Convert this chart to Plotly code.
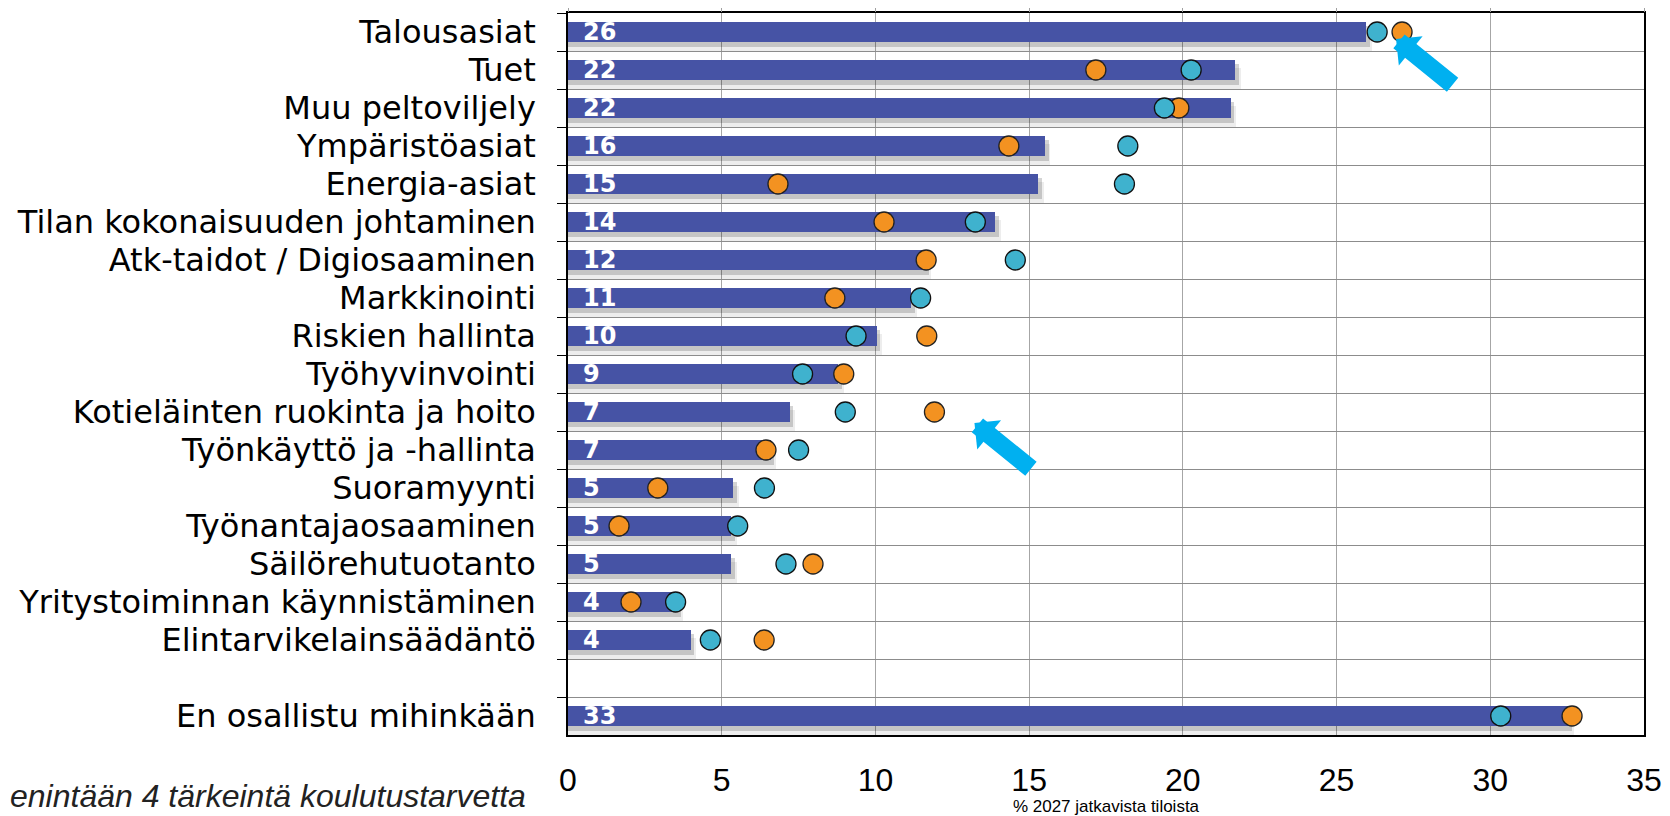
import plotly.graph_objects as go

categories = [
    "Talousasiat", "Tuet", "Muu peltoviljely", "Ympäristöasiat", "Energia-asiat",
    "Tilan kokonaisuuden johtaminen", "Atk-taidot / Digiosaaminen", "Markkinointi",
    "Riskien hallinta", "Työhyvinvointi", "Kotieläinten ruokinta ja hoito",
    "Työnkäyttö ja -hallinta", "Suoramyynti", "Työnantajaosaaminen",
    "Säilörehutuotanto", "Yritystoiminnan käynnistäminen", "Elintarvikelainsäädäntö",
    " ", "En osallistu mihinkään",
]
bar_values = [25.96, 21.71, 21.55, 15.51, 15.30, 13.89, 11.62, 11.16, 10.04, 8.79,
              7.21, 6.59, 5.37, 5.31, 5.31, 3.55, 3.99, None, 32.55]
teal_values = [26.32, 20.27, 19.40, 18.21, 18.10, 13.25, 14.55, 11.47, 9.37, 7.63,
               9.02, 7.50, 6.39, 5.52, 7.09, 3.50, 4.63, None, 30.34]
orange_values = [27.13, 17.17, 19.87, 14.34, 6.83, 10.28, 11.65, 8.68, 11.67, 8.97,
                 11.92, 6.44, 2.92, 1.66, 7.97, 2.05, 6.38, None, 32.66]
x_ticks = [0, 5, 10, 15, 20, 25, 30, 35]
x_title = "% 2027 jatkavista tiloista"
footnote = "enintään 4 tärkeintä koulutustarvetta"
arrow_targets = ["Talousasiat", "Kotieläinten ruokinta ja hoito"]

BAR_COLOR = "#4653A5"
TEAL = "#3FB2CE"
ORANGE = "#F39221"
ARROW = "#00B0F0"
BAR_W = 0.55

# the page body has an 8px default margin; the figure is sized to fill the rest
FIG_W, FIG_H = 1662, 808
M_L, M_R, M_T, M_B = 560, 26, 5, 81

fig = go.Figure()

# soft drop shadow under bars
for dy, dx, col in [(0.22, 0.18, "rgba(0,0,0,0.07)"), (0.12, 0.12, "rgba(0,0,0,0.17)")]:
    fig.add_trace(go.Bar(
        y=categories,
        x=[None if v is None else v + dx for v in bar_values],
        orientation="h", width=BAR_W, offset=-BAR_W / 2 + dy,
        marker=dict(color=col, line=dict(width=0)),
        hoverinfo="skip", showlegend=False,
    ))

fig.add_trace(go.Bar(
    y=categories, x=bar_values, orientation="h", width=BAR_W, offset=-BAR_W / 2,
    marker=dict(color=BAR_COLOR, line=dict(width=0)),
    texttemplate="\u2002%{x:.0f}", textposition="inside", insidetextanchor="start",
    constraintext="none", textangle=0,
    textfont=dict(family="DejaVu Sans", size=24, color="white", weight="bold"),
    showlegend=False, name="2027",
))

fig.add_trace(go.Scatter(
    y=categories, x=orange_values, mode="markers",
    marker=dict(size=20, color=ORANGE, line=dict(color="#222222", width=1.3)),
    showlegend=False, name="orange",
))
fig.add_trace(go.Scatter(
    y=categories, x=teal_values, mode="markers", xaxis="x2",
    marker=dict(size=20, color=TEAL, line=dict(color="#111111", width=1.3)),
    showlegend=False, name="teal",
))

plot_w = FIG_W - M_L - M_R
plot_h = FIG_H - M_T - M_B

annotations = []
shifts = [(-6, -7), (40, -11)]
for cat, (xs, ys) in zip(arrow_targets, shifts):
    idx = categories.index(cat)
    annotations.append(dict(
        x=orange_values[idx], y=cat, xref="x", yref="y", xshift=xs, yshift=ys,
        text="", showarrow=True, arrowhead=1, arrowsize=0.35, arrowwidth=18,
        arrowcolor=ARROW, ax=58, ay=47,
    ))
annotations.append(dict(
    text=footnote, xref="paper", yref="paper", x=-M_L / plot_w, y=-M_B / plot_h,
    xanchor="left", yanchor="bottom", showarrow=False,
    font=dict(family="Liberation Sans", size=32, color="#222222", style="italic"),
))

fig.update_layout(
    width=FIG_W, height=FIG_H,
    margin=dict(l=M_L, r=M_R, t=M_T, b=M_B, autoexpand=False),
    paper_bgcolor="white", plot_bgcolor="white",
    barmode="overlay", bargap=0,
    xaxis=dict(
        range=[0, 35], tickvals=x_ticks, showgrid=True, gridcolor="#a6a6a6", gridwidth=1,
        showline=True, linecolor="black", linewidth=1.5, mirror=True, ticks="",
        zeroline=False, automargin=False,
        tickfont=dict(family="Liberation Sans", size=32, color="black"),
        ticklabelstandoff=16,
        title=dict(text=x_title, font=dict(family="Liberation Sans", size=17, color="black"),
                   standoff=5),
    ),
    xaxis2=dict(
        matches="x", overlaying="x", side="top", range=[0, 35], tickvals=x_ticks,
        ticks="outside", ticklen=11, tickcolor="#a0a0a0", showticklabels=False,
        showgrid=False, showline=False, zeroline=False,
    ),
    yaxis=dict(
        type="category", categoryorder="array", categoryarray=categories,
        range=[len(categories) - 0.5, -0.5], autorange=False,
        tickmode="linear", tick0=0, dtick=1,
        tickson="boundaries", ticks="outside", ticklen=9,
        tickcolor="black", tickwidth=1, showgrid=True, gridcolor="#8c8c8c", gridwidth=1,
        showline=True, linecolor="black", linewidth=1.5, mirror=True,
        tickfont=dict(family="DejaVu Sans", size=32, color="black"),
        ticklabelstandoff=24, automargin=False,
    ),
    annotations=annotations,
)

fig.write_html("out.html")
